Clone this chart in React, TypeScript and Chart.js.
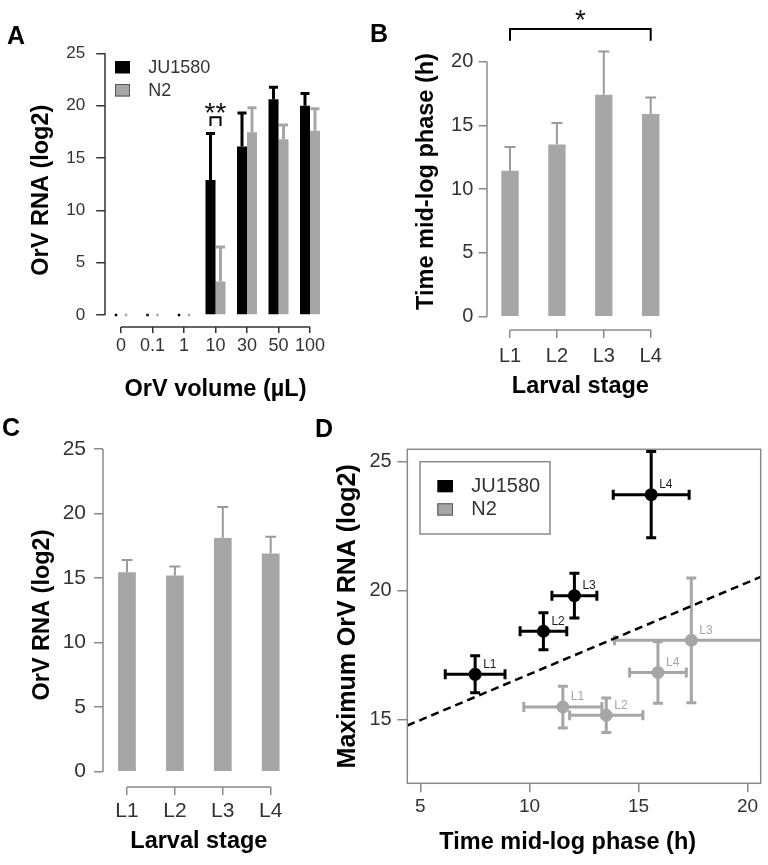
import React, { useEffect, useRef } from "react";
import { Chart, registerables } from "chart.js";

Chart.register(...registerables);

const FONT = '"Liberation Sans", Arial, Helvetica, sans-serif';
Chart.defaults.font.family = FONT;
Chart.defaults.color = "#333";

// ---------- Panel A data ----------
const volumeLabels = ["0", "0.1", "1", "10", "30", "50", "100"];
const ju1580Rna = [0, 0, 0, 12.9, 16.1, 20.6, 20.0];
const ju1580RnaErr = [0, 0, 0, 4.45, 3.2, 1.15, 1.15];
const n2Rna = [0, 0, 0, 3.2, 17.45, 16.8, 17.6];
const n2RnaErr = [0, 0, 0, 3.3, 2.35, 1.35, 2.1];
const rnaTicks = [0, 5, 10, 15, 20, 25];

// ---------- Panel B data ----------
const stageLabels = ["L1", "L2", "L3", "L4"];
const midLogTime = [11.45, 13.5, 17.4, 15.9];
const midLogTimeErr = [1.85, 1.7, 3.4, 1.3];
const timeTicks = [0, 5, 10, 15, 20];

// ---------- Panel C data ----------
const stageRna = [15.45, 15.2, 18.1, 16.9];
const stageRnaErr = [0.95, 0.7, 2.4, 1.3];

// ---------- Panel D data ----------
const juTime = [7.51, 10.64, 12.06, 15.58];
const juTimeErr = [1.37, 1.07, 1.03, 1.74];
const juMaxRna = [16.75, 18.42, 19.8, 23.72];
const juMaxRnaErr = [0.72, 0.72, 0.87, 1.67];
const n2Time = [11.53, 13.52, 17.42, 15.89];
const n2TimeErr = [1.79, 1.68, 3.52, 1.3];
const n2MaxRna = [15.48, 15.16, 18.07, 16.82];
const n2MaxRnaErr = [0.81, 0.67, 2.42, 1.19];
const fitLineTime = [4.4, 20.6];
const fitLineRna = [14.76, 20.53];
const timeAxisTicks = [5, 10, 15, 20];
const maxRnaTicks = [15, 20, 25];

const BLACK = "#000000";
const GRAY = "#a6a6a6";
const AXIS_GRAY = "#8a8a8a";
const TEXT = "#333333";

type Cfg = {
  letter: { text: string; x: number; y: number };
  axes: "r" | "box";
  axisColor: string;
  axisWidth: number;
  yFrom?: number;
  yTo?: number;
  barErr?: { width: number; cap: number; dot: number };
  xyErr?: { width: number; cap: number };
  pointLabels?: { dx: number; dy: number; size: number };
  legend?: {
    items: number[];
    dx: number;
    dy: number;
    boxW: number;
    boxH: number;
    textDx: number;
    textDy: number;
    rowH: number;
    size: number;
    frame?: { dx: number; dy: number; w: number; h: number; color: string; width: number };
  };
  brackets?: {
    from: [number, number];
    to: [number, number];
    top: number;
    end: number;
    text: string;
    size: number;
    textDy: number;
    width: number;
  }[];
};

function makeDecor(cfg: Cfg) {
  return {
    id: "decor",
    beforeDatasetsDraw(chart: any) {
      if (!cfg.xyErr) return;
      const { ctx, chartArea: a } = chart;
      const xs = chart.scales.x;
      const ys = chart.scales.y;
      ctx.save();
      ctx.beginPath();
      ctx.rect(a.left, a.top, a.right - a.left, a.bottom - a.top);
      ctx.clip();
      chart.data.datasets.forEach((ds: any, i: number) => {
        if (!ds.xErr) return;
        const meta = chart.getDatasetMeta(i);
        ctx.strokeStyle = ds.errColor;
        ctx.lineWidth = cfg.xyErr!.width;
        const cap = cfg.xyErr!.cap;
        meta.data.forEach((el: any, j: number) => {
          const p = ds.data[j];
          const xl = xs.getPixelForValue(p.x - ds.xErr[j]);
          const xr = xs.getPixelForValue(p.x + ds.xErr[j]);
          const yt = ys.getPixelForValue(p.y + ds.yErr[j]);
          const yb = ys.getPixelForValue(p.y - ds.yErr[j]);
          ctx.beginPath();
          ctx.moveTo(xl, el.y);
          ctx.lineTo(xr, el.y);
          ctx.moveTo(xl, el.y - cap);
          ctx.lineTo(xl, el.y + cap);
          ctx.moveTo(xr, el.y - cap);
          ctx.lineTo(xr, el.y + cap);
          ctx.moveTo(el.x, yt);
          ctx.lineTo(el.x, yb);
          ctx.moveTo(el.x - cap, yt);
          ctx.lineTo(el.x + cap, yt);
          ctx.moveTo(el.x - cap, yb);
          ctx.lineTo(el.x + cap, yb);
          ctx.stroke();
        });
      });
      ctx.restore();
    },
    afterDatasetsDraw(chart: any) {
      const { ctx } = chart;
      const ys = chart.scales.y;
      ctx.save();
      if (cfg.barErr) {
        const be = cfg.barErr;
        chart.data.datasets.forEach((ds: any, i: number) => {
          if (!ds.errPlus) return;
          const meta = chart.getDatasetMeta(i);
          ctx.strokeStyle = ds.errColor;
          ctx.fillStyle = ds.errColor;
          ctx.lineWidth = be.width;
          meta.data.forEach((el: any, j: number) => {
            const v = ds.data[j];
            const e = ds.errPlus[j];
            const y0 = ys.getPixelForValue(v);
            if (v === 0 && e === 0) {
              ctx.fillRect(el.x - be.dot / 2, y0 - be.dot / 2, be.dot, be.dot);
              return;
            }
            const y1 = ys.getPixelForValue(v + e);
            ctx.beginPath();
            ctx.moveTo(el.x, y0);
            ctx.lineTo(el.x, y1);
            ctx.moveTo(el.x - be.cap, y1);
            ctx.lineTo(el.x + be.cap, y1);
            ctx.stroke();
          });
        });
      }
      if (cfg.pointLabels) {
        const pl = cfg.pointLabels;
        chart.data.datasets.forEach((ds: any, i: number) => {
          if (!ds.pointLabels) return;
          const meta = chart.getDatasetMeta(i);
          ctx.fillStyle = ds.labelColor;
          ctx.font = `${pl.size}px ${FONT}`;
          ctx.textAlign = "left";
          ctx.textBaseline = "middle";
          meta.data.forEach((el: any, j: number) => {
            ctx.fillText(ds.pointLabels[j], el.x + pl.dx, el.y + pl.dy);
          });
        });
      }
      ctx.restore();
    },
    afterDraw(chart: any) {
      const { ctx, chartArea: a } = chart;
      const xs = chart.scales.x;
      const ys = chart.scales.y;
      ctx.save();
      // axes
      ctx.strokeStyle = cfg.axisColor;
      ctx.lineWidth = cfg.axisWidth;
      if (cfg.axes === "box") {
        ctx.strokeRect(a.left, a.top, a.right - a.left, a.bottom - a.top);
      } else {
        const n = chart.data.labels.length;
        const lx = Math.round(a.left);
        const by = Math.round(a.bottom);
        ctx.beginPath();
        ctx.moveTo(lx, ys.getPixelForValue(cfg.yFrom));
        ctx.lineTo(lx, ys.getPixelForValue(cfg.yTo));
        ctx.moveTo(xs.getPixelForValue(0), by);
        ctx.lineTo(xs.getPixelForValue(n - 1), by);
        ctx.stroke();
      }
      // legend
      if (cfg.legend) {
        const L = cfg.legend;
        if (L.frame) {
          ctx.strokeStyle = L.frame.color;
          ctx.lineWidth = L.frame.width;
          ctx.strokeRect(a.left + L.frame.dx, a.top + L.frame.dy, L.frame.w, L.frame.h);
        }
        L.items.forEach((di, k) => {
          const ds = chart.data.datasets[di];
          const bx = a.left + L.dx;
          const by = a.top + L.dy + k * L.rowH;
          ctx.fillStyle = ds.backgroundColor;
          ctx.fillRect(bx, by, L.boxW, L.boxH);
          if (ds.legendStroke) {
            ctx.strokeStyle = ds.legendStroke;
            ctx.lineWidth = 1;
            ctx.strokeRect(bx + 0.5, by + 0.5, L.boxW - 1, L.boxH - 1);
          }
          ctx.fillStyle = TEXT;
          ctx.font = `${L.size}px ${FONT}`;
          ctx.textAlign = "left";
          ctx.textBaseline = "middle";
          ctx.fillText(ds.label, a.left + L.textDx, by + L.boxH / 2 + L.textDy);
        });
      }
      // significance brackets
      (cfg.brackets || []).forEach((b) => {
        const x1 = chart.getDatasetMeta(b.from[0]).data[b.from[1]].x;
        const x2 = chart.getDatasetMeta(b.to[0]).data[b.to[1]].x;
        const yt = ys.getPixelForValue(b.top);
        const ye = ys.getPixelForValue(b.end);
        ctx.strokeStyle = BLACK;
        ctx.lineWidth = b.width;
        ctx.beginPath();
        ctx.moveTo(x1, ye);
        ctx.lineTo(x1, yt);
        ctx.lineTo(x2, yt);
        ctx.lineTo(x2, ye);
        ctx.stroke();
        ctx.fillStyle = "#111";
        ctx.font = `${b.size}px ${FONT}`;
        ctx.textAlign = "center";
        ctx.textBaseline = "alphabetic";
        ctx.fillText(b.text, (x1 + x2) / 2, yt + b.textDy);
      });
      // panel letter
      ctx.fillStyle = BLACK;
      ctx.font = `bold 25px ${FONT}`;
      ctx.textAlign = "left";
      ctx.textBaseline = "alphabetic";
      ctx.fillText(cfg.letter.text, cfg.letter.x, cfg.letter.y);
      ctx.restore();
    },
  };
}

function linearY(o: {
  min: number;
  max: number;
  width: number;
  ticks: number[];
  tickLength: number;
  padding: number;
  size: number;
  color: string;
  title: string;
  titleSize: number;
  titlePad: number;
}) {
  return {
    type: "linear",
    min: o.min,
    max: o.max,
    afterFit: (s: any) => {
      s.width = o.width;
    },
    afterBuildTicks: (s: any) => {
      s.ticks = o.ticks.map((v) => ({ value: v }));
    },
    grid: {
      display: true,
      drawOnChartArea: false,
      drawTicks: true,
      tickLength: o.tickLength,
      color: o.color,
      lineWidth: 1.5,
    },
    border: { display: false },
    ticks: { padding: o.padding, font: { size: o.size }, color: TEXT },
    title: {
      display: true,
      text: o.title,
      color: BLACK,
      font: { size: o.titleSize, weight: "bold" },
      padding: { top: o.titlePad, bottom: 0 },
    },
  };
}

function categoryX(o: {
  height: number;
  tickLength: number;
  padding: number;
  size: number;
  color: string;
  title: string;
  titlePad: number;
}) {
  return {
    type: "category",
    afterFit: (s: any) => {
      s.height = o.height;
    },
    grid: {
      display: true,
      drawOnChartArea: false,
      drawTicks: true,
      tickLength: o.tickLength,
      offset: false,
      color: o.color,
      lineWidth: 1.5,
    },
    border: { display: false },
    ticks: {
      padding: o.padding,
      font: { size: o.size },
      color: TEXT,
      autoSkip: false,
      maxRotation: 0,
      minRotation: 0,
    },
    title: {
      display: true,
      text: o.title,
      color: BLACK,
      font: { size: 23.5, weight: "bold" },
      padding: { top: 0, bottom: o.titlePad },
    },
  };
}

const baseOptions = {
  responsive: false,
  animation: false,
  devicePixelRatio: 1,
  events: [],
};

function configA() {
  return {
    type: "bar",
    data: {
      labels: volumeLabels,
      datasets: [
        {
          label: "JU1580",
          data: ju1580Rna,
          backgroundColor: BLACK,
          borderWidth: 0,
          errPlus: ju1580RnaErr,
          errColor: BLACK,
          categoryPercentage: 0.635,
          barPercentage: 1,
        },
        {
          label: "N2",
          data: n2Rna,
          backgroundColor: GRAY,
          borderWidth: 0,
          errPlus: n2RnaErr,
          errColor: GRAY,
          legendStroke: "#555",
          categoryPercentage: 0.635,
          barPercentage: 1,
        },
      ],
    },
    options: {
      ...baseOptions,
      layout: { padding: { left: 0, right: 58.25, top: 53.3, bottom: 0 } },
      plugins: { legend: { display: false }, tooltip: { enabled: false } },
      scales: {
        x: categoryX({
          height: 88,
          tickLength: 6,
          padding: 2,
          size: 18,
          color: "#333",
          title: "OrV volume (µL)",
          titlePad: 10.9,
        }),
        y: linearY({
          min: -1.146,
          max: 25,
          width: 105.25,
          ticks: rnaTicks,
          tickLength: 9,
          padding: 11,
          size: 17,
          color: "#333",
          title: "OrV RNA (log2)",
          titleSize: 23.5,
          titlePad: 27,
        }),
      },
    },
    plugins: [
      makeDecor({
        letter: { text: "A", x: 7, y: 43.5 },
        axes: "r",
        axisColor: "#333",
        axisWidth: 1.5,
        yFrom: 0,
        yTo: 25,
        barErr: { width: 3, cap: 4.5, dot: 2.5 },
        legend: {
          items: [0, 1],
          dx: 9.75,
          dy: 7.7,
          boxW: 15,
          boxH: 12.5,
          textDx: 43,
          textDy: 0.5,
          rowH: 23,
          size: 18,
        },
        brackets: [
          { from: [0, 3], to: [1, 3], top: 18.9, end: 18.05, text: "**", size: 28, textDy: 4.5, width: 2 },
        ],
      }),
    ],
  };
}

function configB() {
  return {
    type: "bar",
    data: {
      labels: stageLabels,
      datasets: [
        {
          label: "N2",
          data: midLogTime,
          backgroundColor: GRAY,
          borderWidth: 0,
          errPlus: midLogTimeErr,
          errColor: "#9a9a9a",
          categoryPercentage: 0.37,
          barPercentage: 1,
        },
      ],
    },
    options: {
      ...baseOptions,
      layout: { padding: { left: 0, right: 93.85, top: 33, bottom: 0 } },
      plugins: { legend: { display: false }, tooltip: { enabled: false } },
      scales: {
        x: categoryX({
          height: 85,
          tickLength: 8,
          padding: 6,
          size: 20,
          color: AXIS_GRAY,
          title: "Larval stage",
          titlePad: 13.9,
        }),
        y: linearY({
          min: -1.043,
          max: 22.25,
          width: 126.55,
          ticks: timeTicks,
          tickLength: 8,
          padding: 5.25,
          size: 20,
          color: AXIS_GRAY,
          title: "Time mid-log phase (h)",
          titleSize: 23.5,
          titlePad: 52.4,
        }),
      },
    },
    plugins: [
      makeDecor({
        letter: { text: "B", x: 10, y: 41.7 },
        axes: "r",
        axisColor: AXIS_GRAY,
        axisWidth: 1.5,
        yFrom: 0,
        yTo: 20,
        barErr: { width: 2, cap: 5.5, dot: 0 },
        brackets: [
          { from: [0, 0], to: [0, 3], top: 22.56, end: 21.65, text: "*", size: 28, textDy: 0, width: 2 },
        ],
      }),
    ],
  };
}

function configC() {
  return {
    type: "bar",
    data: {
      labels: stageLabels,
      datasets: [
        {
          label: "N2",
          data: stageRna,
          backgroundColor: GRAY,
          borderWidth: 0,
          errPlus: stageRnaErr,
          errColor: "#9a9a9a",
          categoryPercentage: 0.37,
          barPercentage: 1,
        },
      ],
    },
    options: {
      ...baseOptions,
      layout: { padding: { left: 0, right: 15.35, top: 28.3, bottom: 0 } },
      plugins: { legend: { display: false }, tooltip: { enabled: false } },
      scales: {
        x: categoryX({
          height: 78.3,
          tickLength: 8.3,
          padding: 3.9,
          size: 21,
          color: AXIS_GRAY,
          title: "Larval stage",
          titlePad: 8.9,
        }),
        y: linearY({
          min: -1.162,
          max: 25.44,
          width: 103.05,
          ticks: rnaTicks,
          tickLength: 9,
          padding: 8,
          size: 21,
          color: AXIS_GRAY,
          title: "OrV RNA (log2)",
          titleSize: 23.5,
          titlePad: 28.4,
        }),
      },
    },
    plugins: [
      makeDecor({
        letter: { text: "C", x: 2, y: 21 },
        axes: "r",
        axisColor: AXIS_GRAY,
        axisWidth: 1.5,
        yFrom: 0,
        yTo: 25,
        barErr: { width: 2, cap: 5.5, dot: 0 },
      }),
    ],
  };
}

function configD() {
  return {
    type: "scatter",
    data: {
      datasets: [
        {
          type: "scatter",
          label: "JU1580",
          data: juTime.map((x, i) => ({ x, y: juMaxRna[i] })),
          backgroundColor: BLACK,
          pointRadius: 6.5,
          borderWidth: 0,
          xErr: juTimeErr,
          yErr: juMaxRnaErr,
          errColor: BLACK,
          pointLabels: stageLabels,
          labelColor: "#1a1a1a",
        },
        {
          type: "scatter",
          label: "N2",
          data: n2Time.map((x, i) => ({ x, y: n2MaxRna[i] })),
          backgroundColor: GRAY,
          pointRadius: 6.5,
          borderWidth: 0,
          xErr: n2TimeErr,
          yErr: n2MaxRnaErr,
          errColor: GRAY,
          legendStroke: "#555",
          pointLabels: stageLabels,
          labelColor: GRAY,
        },
        {
          type: "line",
          label: "fit",
          data: fitLineTime.map((x, i) => ({ x, y: fitLineRna[i] })),
          borderColor: BLACK,
          borderWidth: 2.5,
          borderDash: [8, 5],
          pointRadius: 0,
          fill: false,
          showLine: true,
        },
      ],
    },
    options: {
      ...baseOptions,
      layout: { padding: { left: 0, right: 7.3, top: 34.3, bottom: 0 } },
      plugins: { legend: { display: false }, tooltip: { enabled: false } },
      scales: {
        x: {
          type: "linear",
          min: 4.4,
          max: 20.6,
          afterFit: (s: any) => {
            s.height = 81.7;
          },
          afterBuildTicks: (s: any) => {
            s.ticks = timeAxisTicks.map((v) => ({ value: v }));
          },
          grid: {
            display: true,
            drawOnChartArea: false,
            drawTicks: true,
            tickLength: 9,
            color: AXIS_GRAY,
            lineWidth: 1.5,
          },
          border: { display: false },
          ticks: { padding: 3, font: { size: 19 }, color: TEXT },
          title: {
            display: true,
            text: "Time mid-log phase (h)     ",
            color: BLACK,
            font: { size: 23.5, weight: "bold" },
            padding: { top: 0, bottom: 7.9 },
          },
        },
        y: linearY({
          min: 12.52,
          max: 25.48,
          width: 102.3,
          ticks: maxRnaTicks,
          tickLength: 10,
          padding: 5.6,
          size: 20,
          color: AXIS_GRAY,
          title: "Maximum OrV RNA (log2)",
          titleSize: 25,
          titlePad: 28,
        }),
      },
    },
    plugins: [
      makeDecor({
        letter: { text: "D", x: 10, y: 21.5 },
        axes: "box",
        axisColor: AXIS_GRAY,
        axisWidth: 1.5,
        xyErr: { width: 3, cap: 5 },
        pointLabels: { dx: 8, dy: -10, size: 12 },
        legend: {
          items: [0, 1],
          dx: 30,
          dy: 30.7,
          boxW: 15.7,
          boxH: 12.3,
          textDx: 64,
          textDy: 0.5,
          rowH: 23.3,
          size: 20,
          frame: { dx: 12.7, dy: 12.4, w: 130, h: 72.3, color: AXIS_GRAY, width: 1.5 },
        },
      }),
    ],
  };
}

function ChartPanel(props: { left: number; top: number; width: number; height: number; make: () => any }) {
  const ref = useRef<HTMLCanvasElement>(null);
  useEffect(() => {
    const chart = new Chart(ref.current as HTMLCanvasElement, props.make());
    return () => chart.destroy();
  }, []);
  return (
    <canvas
      ref={ref}
      width={props.width}
      height={props.height}
      style={{
        position: "absolute",
        left: props.left,
        top: props.top,
        width: props.width,
        height: props.height,
      }}
    />
  );
}

export default function App() {
  return (
    <div
      style={{
        position: "absolute",
        left: 0,
        top: 0,
        width: 768,
        height: 865,
        background: "#ffffff",
        overflow: "hidden",
      }}
    >
      <ChartPanel left={0} top={0} width={384} height={415} make={configA} />
      <ChartPanel left={360} top={0} width={408} height={415} make={configB} />
      <ChartPanel left={0} top={415} width={310} height={450} make={configC} />
      <ChartPanel left={305} top={415} width={463} height={450} make={configD} />
    </div>
  );
}
